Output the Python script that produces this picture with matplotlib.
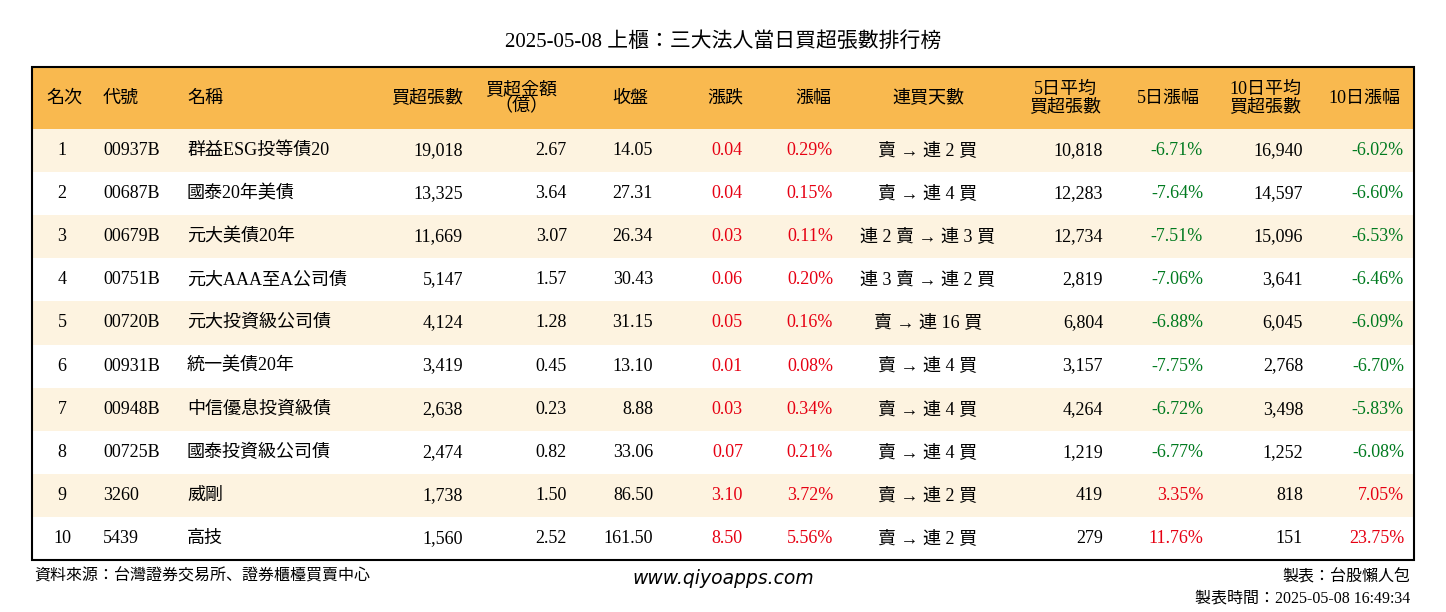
import matplotlib
matplotlib.use("Agg")
import matplotlib.pyplot as plt
from matplotlib.patches import Rectangle
from matplotlib import font_manager as fm

cjk = [f.name for f in fm.fontManager.ttflist if "CJK" in f.name]
cjkname = "Noto Sans CJK TC" if "Noto Sans CJK TC" in cjk else (cjk[0] if cjk else "DejaVu Sans")
plt.rcParams["font.family"] = ["Liberation Serif", cjkname]

title = "2025-05-08 上櫃：三大法人當日買超張數排行榜"
headers = ["名次", "代號", "名稱", "買超張數", "買超金額\n（億）", "收盤", "漲跌", "漲幅",
           "連買天數", "5日平均\n買超張數", "5日漲幅", "10日平均\n買超張數", "10日漲幅"]
ranks = [1, 2, 3, 4, 5, 6, 7, 8, 9, 10]
codes = ["00937B", "00687B", "00679B", "00751B", "00720B", "00931B", "00948B", "00725B", "3260", "5439"]
names = ["群益ESG投等債20", "國泰20年美債", "元大美債20年", "元大AAA至A公司債", "元大投資級公司債",
         "統一美債20年", "中信優息投資級債", "國泰投資級公司債", "威剛", "高技"]
net_buy = [19018, 13325, 11669, 5147, 4124, 3419, 2638, 2474, 1738, 1560]
amount = [2.67, 3.64, 3.07, 1.57, 1.28, 0.45, 0.23, 0.82, 1.50, 2.52]
close = [14.05, 27.31, 26.34, 30.43, 31.15, 13.10, 8.88, 33.06, 86.50, 161.50]
change = [0.04, 0.04, 0.03, 0.06, 0.05, 0.01, 0.03, 0.07, 3.10, 8.50]
pct = [0.29, 0.15, 0.11, 0.20, 0.16, 0.08, 0.34, 0.21, 3.72, 5.56]
streak = ["賣 → 連 2 買", "賣 → 連 4 買", "連 2 賣 → 連 3 買", "連 3 賣 → 連 2 買", "賣 → 連 16 買",
          "賣 → 連 4 買", "賣 → 連 4 買", "賣 → 連 4 買", "賣 → 連 2 買", "賣 → 連 2 買"]
avg5 = [10818, 12283, 12734, 2819, 6804, 3157, 4264, 1219, 419, 279]
pct5 = [-6.71, -7.64, -7.51, -7.06, -6.88, -7.75, -6.72, -6.77, 3.35, 11.76]
avg10 = [16940, 14597, 15096, 3641, 6045, 2768, 3498, 1252, 818, 151]
pct10 = [-6.02, -6.60, -6.53, -6.46, -6.09, -6.70, -5.83, -6.08, 7.05, 23.75]

RED, GREEN = "#e60012", "#007a1f"
fig = plt.figure(figsize=(14.46, 6.12), dpi=100)
ax = fig.add_axes([0, 0, 1, 1])
ax.set_xlim(0, 1446); ax.set_ylim(612, 0); ax.axis("off")

X0, X1, Y0, HY = 32, 1414, 67, 129
RH = (560 - HY) / 10
ax.text(723, 42, title, ha="center", va="center", fontsize=15)
ax.add_patch(Rectangle((X0, Y0), X1 - X0, HY - Y0, color="#f9b94f", lw=0))
for i in range(10):
    if i % 2 == 0:
        ax.add_patch(Rectangle((X0, HY + i * RH), X1 - X0, RH, color="#fdf3e0", lw=0))
ax.add_patch(Rectangle((X0, Y0), X1 - X0, 560 - Y0, fill=False, ec="black", lw=1.5))

hpos = [(64, "center"), (103, "left"), (187, "left"), (463, "right"), (521, "center"), (630, "center"),
        (725, "center"), (813, "center"), (928, "center"), (1065, "center"), (1168, "center"),
        (1265, "center"), (1364, "center")]
dpos = [(62, "center"), (103, "left"), (187, "left"), (463, "right"), (567, "right"), (653, "right"),
        (743, "right"), (833, "right"), (928, "center"), (1103, "right"), (1203, "right"),
        (1303, "right"), (1404, "right")]
fs = 13
for (x, ha), h in zip(hpos, headers):
    ax.text(x, (Y0 + HY) / 2, h, ha=ha, va="center", fontsize=fs, linespacing=1.0)

def col(v):
    return RED if v > 0 else GREEN

for i in range(10):
    y = HY + (i + 0.5) * RH
    vals = [(str(ranks[i]), "black"), (codes[i], "black"), (names[i], "black"),
            (f"{net_buy[i]:,}", "black"), (f"{amount[i]:.2f}", "black"), (f"{close[i]:.2f}", "black"),
            (f"{change[i]:.2f}", col(change[i])), (f"{pct[i]:.2f}%", col(pct[i])),
            (streak[i], "black"), (f"{avg5[i]:,}", "black"), (f"{pct5[i]:.2f}%", col(pct5[i])),
            (f"{avg10[i]:,}", "black"), (f"{pct10[i]:.2f}%", col(pct10[i]))]
    for (x, ha), (t, c) in zip(dpos, vals):
        ax.text(x, y, t, ha=ha, va="center", fontsize=fs, color=c)

ax.text(34, 577, "資料來源：台灣證券交易所、證券櫃檯買賣中心", ha="left", va="center", fontsize=11.5)
ax.text(723, 579, "www.qiyoapps.com", ha="center", va="center", fontsize=13.5,
        style="italic", family="DejaVu Sans")
ax.text(1410, 577, "製表：台股懶人包", ha="right", va="center", fontsize=11.5)
ax.text(1410, 598, "製表時間：2025-05-08 16:49:34", ha="right", va="center", fontsize=11.5)
fig.savefig("out.png", dpi=100)
